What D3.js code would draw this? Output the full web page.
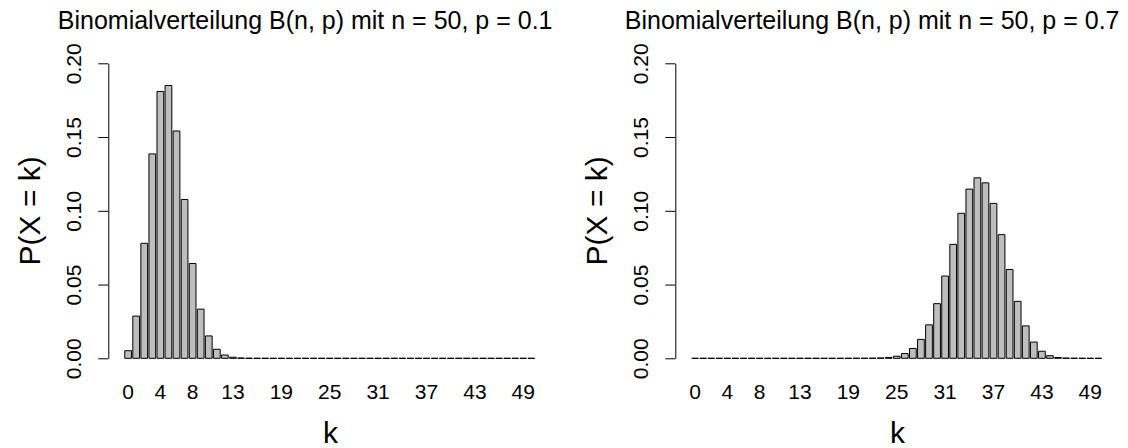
<!DOCTYPE html>
<html>
<head>
<meta charset="utf-8">
<script src="https://cdnjs.cloudflare.com/ajax/libs/d3/7.8.5/d3.min.js"></script>
<style>
  body { margin: 0; background: #fff; }
  svg { display: block; font-family: "Liberation Sans", Arial, sans-serif; }
</style>
</head>
<body>
<div id="graphArea"></div>
<script>
// k = 0..50
var kValues = [0,1,2,3,4,5,6,7,8,9,10,11,12,13,14,15,16,17,18,19,20,21,22,23,24,25,
  26,27,28,29,30,31,32,33,34,35,36,37,38,39,40,41,42,43,44,45,46,47,48,49,50];

// P(X = k), n = 50, p = 0.1
var probsP01 = [0.00515,0.02863,0.07795,0.13858,0.18092,0.18494,0.15412,0.10764,0.06428,0.03333,
  0.01518,0.00613,0.00222,0.00072,0.00021,0.00006,0.00001,0.000003,0,0,
  0,0,0,0,0,0,0,0,0,0,0,0,0,0,0,0,0,0,0,0,0,0,0,0,0,0,0,0,0,0,0];

// P(X = k), n = 50, p = 0.7
var probsP07 = [0,0,0,0,0,0,0,0,0,0,0,0,0,0,0,0,0,0,0.0000005,0.000002,
  0.000008,0.000026,0.000079,0.000225,0.000592,0.001436,0.003223,0.006684,0.012811,0.022677,
  0.037039,0.055757,0.077247,0.098314,0.114700,0.122347,0.118949,0.105018,0.083830,0.060186,
  0.038619,0.021978,0.010989,0.004770,0.001771,0.000551,0.000140,0.000028,0.000004,0,0];

var xTickLabels = [0,4,8,13,19,25,31,37,43,49];
var yTicks = [0, 0.05, 0.10, 0.15, 0.20];
var titles = ["Binomialverteilung B(n, p) mit n = 50, p = 0.1",
              "Binomialverteilung B(n, p) mit n = 50, p = 0.7"];

var width = 1128, height = 448;

var svg = d3.select("#graphArea")
  .append("svg")
  .attr("width", width)
  .attr("height", height);

var panels = [
  { values: probsP01, title: titles[0], dx: 0 },
  { values: probsP07, title: titles[1], dx: 567 }
];

// R user coords: bars span 0.2 .. 61.4, plot region -2.248 .. 63.848
var xUser = d3.scaleLinear().domain([-2.248, 63.848]).range([108.3, 552.5]);
var x = d3.scaleBand()
  .domain(kValues)
  .range([xUser(0), xUser(61.4)])
  .padding(1/6);
var y = d3.scaleLinear().domain([0, 0.2]).range([358.3, 63.3]);

panels.forEach(function(p) {
  var g = svg.append("g").attr("transform", "translate(" + p.dx + ",0)");

  // bars as paths so zero-height bars still show their border
  g.selectAll("path.bar")
    .data(p.values)
    .enter()
    .append("path")
      .attr("class", "bar")
      .attr("d", function(d, i) {
        var x0 = x(kValues[i]), x1 = x0 + x.bandwidth();
        return "M" + x0 + "," + y(0) + "H" + x1 + "V" + y(d) + "H" + x0 + "Z";
      })
      .attr("fill", "#bebebe")
      .attr("stroke", "#000")
      .attr("stroke-width", 1);

  // y axis
  var yAxis = g.append("g")
    .attr("transform", "translate(" + xUser(-2.248) + ",0)")
    .call(d3.axisLeft(y).tickValues(yTicks).tickFormat(d3.format(".2f")).tickSize(10).tickSizeOuter(0));
  yAxis.selectAll("text")
    .attr("transform", "rotate(-90)")
    .attr("x", 0)
    .attr("y", -27.8)
    .attr("dy", null)
    .attr("text-anchor", "middle")
    .attr("fill", "#000")
    .style("font-size", "21px");
  yAxis.selectAll("line, path").attr("stroke", "#000");
  yAxis.attr("font-family", null).attr("font-size", null);

  // x axis: labels only
  var xAxis = g.append("g")
    .attr("transform", "translate(0,0)")
    .call(d3.axisBottom(x).tickValues(xTickLabels).tickSize(0));
  xAxis.select(".domain").remove();
  xAxis.selectAll("text")
    .attr("y", 399)
    .attr("dy", null)
    .attr("fill", "#000")
    .style("font-size", "21px");
  xAxis.attr("font-family", null).attr("font-size", null);

  // titles
  g.append("text")
    .attr("x", 552.5)
    .attr("y", 29)
    .attr("text-anchor", "end")
    .style("font-size", "25px")
    .text(p.title);

  g.append("text")
    .attr("x", (xUser(-2.248) + xUser(63.848)) / 2)
    .attr("y", 443)
    .attr("text-anchor", "middle")
    .style("font-size", "30px")
    .text("k");

  g.append("text")
    .attr("transform", "translate(40," + (y(0) + y(0.2)) / 2 + ") rotate(-90)")
    .attr("text-anchor", "middle")
    .style("font-size", "30px")
    .text("P(X = k)");
});
</script>
</body>
</html>
